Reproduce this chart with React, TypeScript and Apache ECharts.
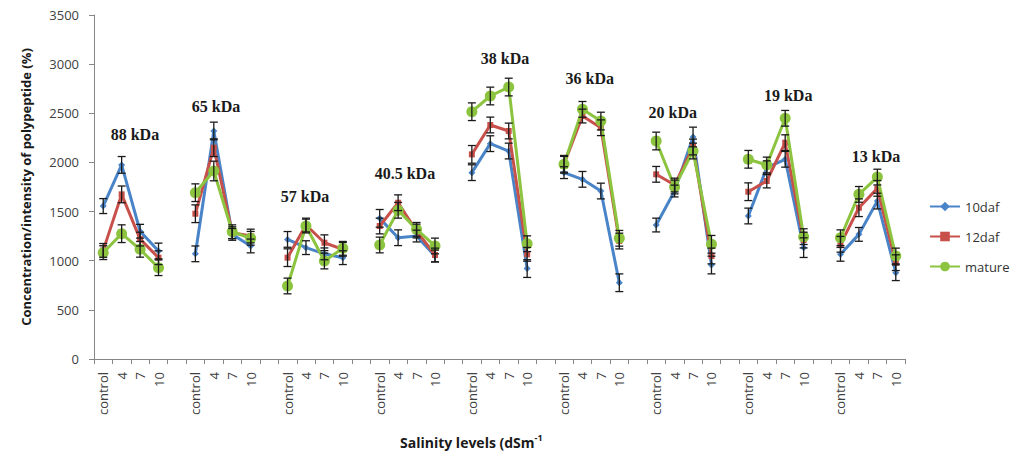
import React, { useEffect, useRef } from "react";
import * as echarts from "echarts";

const groupLabels = ["88 kDa", "65 kDa", "57 kDa", "40.5 kDa", "38 kDa", "36 kDa", "20 kDa", "19 kDa", "13 kDa"];
const levels = ["control", "4", "7", "10"];
// annotation anchor: [position in category units from axis start, value]
const labelAnchors = [
  [2.22, 2289], [6.62, 2574], [11.45, 1658], [16.87, 1892], [22.3, 3062],
  [26.9, 2859], [31.4, 2503], [37.66, 2676], [42.43, 2065],
];

const daf10 = [
  [1556, 1975, 1300, 1099],
  [1070, 2320, 1268, 1150],
  [1217, 1133, 1070, 1031],
  [1431, 1234, 1251, 1048],
  [1896, 2191, 2116, 920],
  [1896, 1828, 1709, 776],
  [1363, 1709, 2259, 956],
  [1455, 1946, 2032, 1133],
  [1065, 1268, 1607, 878],
];
const daf12 = [
  [1105, 1675, 1220, 1031],
  [1478, 2150, 1285, 1251],
  [1031, 1363, 1183, 1116],
  [1353, 1590, 1302, 1058],
  [2082, 2381, 2320, 1065],
  [1981, 2472, 2353, 1200],
  [1879, 1770, 2157, 1048],
  [1702, 1811, 2201, 1210],
  [1167, 1539, 1736, 980],
];
const mature = [
  [1082, 1275, 1116, 929],
  [1692, 1913, 1295, 1228],
  [743, 1353, 997, 1126],
  [1160, 1513, 1319, 1150],
  [2516, 2676, 2767, 1173],
  [1981, 2540, 2421, 1228],
  [2218, 1750, 2116, 1167],
  [2032, 1974, 2449, 1245],
  [1234, 1675, 1851, 1048],
];
const err10 = [
  [76, 85, 70, 80],
  [80, 90, 60, 70],
  [80, 70, 60, 70],
  [90, 80, 60, 60],
  [80, 80, 80, 90],
  [60, 80, 80, 90],
  [70, 60, 100, 90],
  [80, 70, 80, 100],
  [70, 70, 80, 80],
];
const err12 = [
  [70, 85, 70, 70],
  [90, 90, 60, 70],
  [90, 70, 80, 70],
  [80, 80, 70, 70],
  [90, 80, 80, 70],
  [90, 70, 80, 80],
  [80, 70, 80, 80],
  [90, 70, 80, 80],
  [80, 90, 80, 80],
];
const errM = [
  [70, 90, 80, 80],
  [90, 100, 70, 70],
  [80, 70, 80, 70],
  [80, 80, 70, 80],
  [90, 90, 90, 80],
  [80, 80, 90, 80],
  [90, 70, 80, 90],
  [90, 80, 80, 80],
  [80, 80, 80, 80],
];

const seriesDefs = [
  { name: "10daf", values: daf10, errs: err10, color: "#4A84C8", symbol: "diamond", size: 7 },
  { name: "12daf", values: daf12, errs: err12, color: "#C8504B", symbol: "rect", size: 6 },
  { name: "mature", values: mature, errs: errM, color: "#8CC43F", symbol: "circle", size: 11 },
];

const GRID_LEFT = 94;
const GRID_TOP = 15;
const GRID_W = 811;
const GRID_H = 344;
const Y_MAX = 3500;

function buildCategories() {
  const cats: string[] = [];
  groupLabels.forEach((_, g) => {
    levels.forEach((l) => cats.push(l));
    if (g < groupLabels.length - 1) cats.push("");
  });
  return cats;
}

function flatten(groups: number[][]) {
  const out: (number | null)[] = [];
  groups.forEach((vals, g) => {
    vals.forEach((v) => out.push(v));
    if (g < groups.length - 1) out.push(null);
  });
  return out;
}

export default function App() {
  const ref = useRef<HTMLDivElement>(null);
  useEffect(() => {
    document.body.style.margin = "0";
    if (!ref.current) return;
    const chart = echarts.init(ref.current, undefined, { renderer: "svg" });
    const categories = buildCategories();
    const font = "'Open Sans', sans-serif";
    const catW = GRID_W / categories.length;

    const series: any[] = [];
    seriesDefs.forEach((s, si) => {
      series.push({
        name: s.name,
        type: "line",
        data: flatten(s.values),
        connectNulls: false,
        symbol: s.symbol,
        symbolSize: s.size,
        showSymbol: true,
        itemStyle: { color: s.color },
        lineStyle: { color: s.color, width: 3 },
        z: 2 + si,
      });
    });
    seriesDefs.forEach((s) => {
      const vals = flatten(s.values);
      const errs = flatten(s.errs);
      const data: number[][] = [];
      vals.forEach((v, i) => {
        if (v !== null) data.push([i, v, errs[i] as number]);
      });
      series.push({
        name: s.name + " err",
        type: "custom",
        data,
        encode: { x: 0, y: 1 },
        z: 6,
        renderItem: (params: any, api: any) => {
          const x = api.value(0);
          const y = api.value(1);
          const e = api.value(2);
          const top = api.coord([x, y + e]);
          const bot = api.coord([x, y - e]);
          const w = 4;
          const st = { stroke: "#1a1a1a", lineWidth: 1.3 };
          return {
            type: "group",
            children: [
              { type: "line", shape: { x1: top[0], y1: top[1], x2: bot[0], y2: bot[1] }, style: st },
              { type: "line", shape: { x1: top[0] - w, y1: top[1], x2: top[0] + w, y2: top[1] }, style: st },
              { type: "line", shape: { x1: bot[0] - w, y1: bot[1], x2: bot[0] + w, y2: bot[1] }, style: st },
            ],
          };
        },
      });
    });

    const graphics: any[] = groupLabels.map((t, i) => ({
      type: "text",
      x: GRID_LEFT + labelAnchors[i][0] * catW,
      y: GRID_TOP + (1 - labelAnchors[i][1] / Y_MAX) * GRID_H,
      style: {
        text: t,
        font: "bold 16px 'Liberation Serif', 'Times New Roman', serif",
        fill: "#1a1a1a",
        align: "center",
        verticalAlign: "middle",
      },
    }));
    graphics.push({
      type: "text",
      x: 400,
      y: 442,
      style: {
        text: "{a|Salinity levels (dSm}{s|-1}",
        verticalAlign: "middle",
        rich: {
          a: { font: `bold 14px ${font}`, fill: "#1a1a1a" },
          s: { font: `bold 9px ${font}`, fill: "#1a1a1a", verticalAlign: "top", padding: [0, 0, 10, 0] },
        },
      },
    });

    chart.setOption({
      animation: false,
      backgroundColor: "#ffffff",
      grid: { left: GRID_LEFT, top: GRID_TOP, width: GRID_W, height: GRID_H, containLabel: false },
      legend: {
        data: seriesDefs.map((s) => s.name),
        orient: "vertical",
        left: 924,
        top: 195,
        itemWidth: 30,
        itemHeight: 12,
        itemGap: 17,
        textStyle: { fontFamily: font, fontSize: 13, color: "#333" },
      },
      xAxis: {
        type: "category",
        data: categories,
        boundaryGap: true,
        axisLine: { lineStyle: { color: "#868686", width: 1 } },
        axisTick: { show: true, interval: 0, length: 5, lineStyle: { color: "#868686" } },
        axisLabel: {
          interval: 0,
          rotate: 90,
          margin: 13,
          fontFamily: font,
          fontSize: 13,
          color: "#404040",
        },
        splitLine: { show: false },
      },
      yAxis: {
        type: "value",
        min: 0,
        max: Y_MAX,
        interval: 500,
        name: "Concentration/intensity of polypeptide (%)",
        nameLocation: "middle",
        nameGap: 62,
        nameTextStyle: { fontFamily: font, fontSize: 13, fontWeight: "bold", color: "#1a1a1a" },
        axisLine: { show: true, lineStyle: { color: "#868686", width: 1 } },
        axisTick: { show: true, length: 5, lineStyle: { color: "#868686" } },
        axisLabel: { fontFamily: font, fontSize: 13, color: "#404040", margin: 15, formatter: (v: number) => String(v) },
        splitLine: { show: false },
      },
      graphic: graphics,
      series,
    });
    return () => chart.dispose();
  }, []);
  return <div ref={ref} style={{ width: 1011, height: 460 }} />;
}
